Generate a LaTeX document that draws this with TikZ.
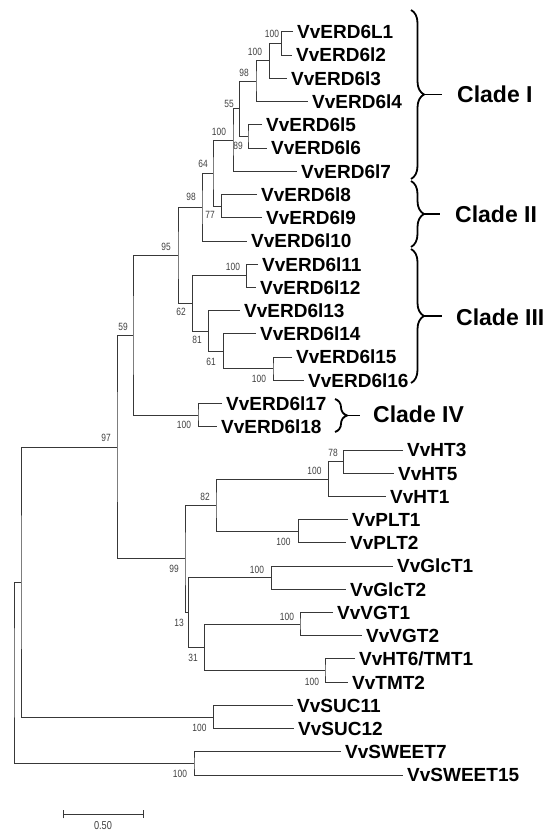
\documentclass[tikz,border=0pt]{standalone}
\usepackage{fontspec}
\setmainfont{Liberation Sans}
\newfontfamily\bsfont[FakeStretch=0.8]{Liberation Sans}
\usetikzlibrary{decorations.pathreplacing,arrows.meta}
\begin{document}
\begin{tikzpicture}[x={(1pt,0pt)}, y={(0pt,-1pt)},
  br/.style={draw=black!78, line width=1pt},
  leaf/.style={anchor=west, inner xsep=4pt, inner ysep=0pt, text height=13.6pt, text depth=0pt, font=\fontsize{19}{19}\selectfont\bfseries},
  bs/.style={inner sep=0pt, text=black!75, font=\bsfont\fontsize{10.5}{10.5}\selectfont, text height=7.5pt, text depth=0pt},
  clade/.style={anchor=west, inner sep=0pt, font=\fontsize{23}{23}\selectfont\bfseries, text height=16.5pt, text depth=0pt},
  cbrace/.style={draw=black, line width=1.8pt, decorate, decoration={brace, amplitude=13pt}},
  dash line/.style={draw=black, line width=1.8pt},
]
\useasboundingbox (0,0) rectangle (552,832);

% leaves
\node[leaf] (e0) at (293,32) {VvERD6L1};
\node[leaf] (e1) at (292,55.2) {VvERD6l2};
\node[leaf] (e2) at (287,78.4) {VvERD6l3};
\node[leaf] (e3) at (308,101.7) {VvERD6l4};
\node[leaf] (e4) at (262,124.9) {VvERD6l5};
\node[leaf] (e5) at (267,148.1) {VvERD6l6};
\node[leaf] (e6) at (297,171.3) {VvERD6l7};
\node[leaf] (e7) at (257,194.5) {VvERD6l8};
\node[leaf] (e8) at (262,217.8) {VvERD6l9};
\node[leaf] (e9) at (247,241) {VvERD6l10};
\node[leaf] (e10) at (258,264.2) {VvERD6l11};
\node[leaf] (e11) at (256,287.4) {VvERD6l12};
\node[leaf] (e12) at (240,310.6) {VvERD6l13};
\node[leaf] (e13) at (256,333.9) {VvERD6l14};
\node[leaf] (e14) at (292,357.1) {VvERD6l15};
\node[leaf] (e15) at (304,380.3) {VvERD6l16};
\node[leaf] (e16) at (222,403.5) {VvERD6l17};
\node[leaf] (e17) at (217,426.7) {VvERD6l18};
\node[leaf] (e18) at (403,450) {VvHT3};
\node[leaf] (e19) at (394,473.2) {VvHT5};
\node[leaf] (e20) at (386,496.4) {VvHT1};
\node[leaf] (e21) at (348,519.6) {VvPLT1};
\node[leaf] (e22) at (346,542.8) {VvPLT2};
\node[leaf] (e23) at (393,566.1) {VvGlcT1};
\node[leaf] (e24) at (346,589.3) {VvGlcT2};
\node[leaf] (e25) at (333,612.5) {VvVGT1};
\node[leaf] (e26) at (362,635.7) {VvVGT2};
\node[leaf] (e27) at (355,658.9) {VvHT6/TMT1};
\node[leaf] (e28) at (348,682.2) {VvTMT2};
\node[leaf] (e29) at (293,705.4) {VvSUC11};
\node[leaf] (e30) at (294,728.6) {VvSUC12};
\node[leaf] (e31) at (341,751.8) {VvSWEET7};
\node[leaf] (e32) at (403,775) {VvSWEET15};

% internal nodes
\coordinate (A) at (281.7,43.6);
\coordinate (B) at (269.3,61.0);
\coordinate (C) at (256,81.35);
\coordinate (E) at (248,136.5);
\coordinate (D) at (239.3,108.9);
\coordinate (F) at (233,140.1);
\coordinate (G) at (221.7,206.2);
\coordinate (H) at (213,173.2);
\coordinate (I) at (202,207.1);
\coordinate (J) at (246.7,275.8);
\coordinate (K) at (273,368.7);
\coordinate (L) at (223.3,351.3);
\coordinate (M) at (208.3,331);
\coordinate (N) at (192.3,303.4);
\coordinate (O) at (178,255.3);
\coordinate (P) at (198,415.1);
\coordinate (Q) at (133,335.2);
\coordinate (R) at (343.3,461.6);
\coordinate (S) at (328.3,479);
\coordinate (T) at (298.3,531.2);
\coordinate (U) at (216,505.1);
\coordinate (V) at (271.7,577.7);
\coordinate (W) at (300,624.1);
\coordinate (X) at (325,670.6);
\coordinate (Y) at (204.3,647.4);
\coordinate (Z) at (188.3,612.6);
\coordinate (AA) at (185,558.9);
\coordinate (N97) at (117,447.1);
\coordinate (BB) at (213.3,717);
\coordinate (CC) at (21,582);
\coordinate (DD) at (194,763.4);
\coordinate (root) at (14,672.7);

% branches
\draw[br] (e0.west) -| (A) |- (e1.west);
\draw[br] (A) -| (B) |- (e2.west);
\draw[br] (B) -| (C) |- (e3.west);
\draw[br] (e4.west) -| (E) |- (e5.west);
\draw[br] (C) -| (D) |- (E);
\draw[br] (D) -| (F) |- (e6.west);
\draw[br] (e7.west) -| (G) |- (e8.west);
\draw[br] (F) -| (H) |- (G);
\draw[br] (H) -| (I) |- (e9.west);
\draw[br] (e10.west) -| (J) |- (e11.west);
\draw[br] (e14.west) -| (K) |- (e15.west);
\draw[br] (e13.west) -| (L) |- (K);
\draw[br] (e12.west) -| (M) |- (L);
\draw[br] (J) -| (N) |- (M);
\draw[br] (I) -| (O) |- (N);
\draw[br] (e16.west) -| (P) |- (e17.west);
\draw[br] (O) -| (Q) |- (P);
\draw[br] (e18.west) -| (R) |- (e19.west);
\draw[br] (R) -| (S) |- (e20.west);
\draw[br] (e21.west) -| (T) |- (e22.west);
\draw[br] (S) -| (U) |- (T);
\draw[br] (e23.west) -| (V) |- (e24.west);
\draw[br] (e25.west) -| (W) |- (e26.west);
\draw[br] (e27.west) -| (X) |- (e28.west);
\draw[br] (W) -| (Y) |- (X);
\draw[br] (V) -| (Z) |- (Y);
\draw[br] (U) -| (AA) |- (Z);
\draw[br] (Q) -| (N97) |- (AA);
\draw[br] (e29.west) -| (BB) |- (e30.west);
\draw[br] (N97) -| (CC) |- (BB);
\draw[br] (e31.west) -| (DD) |- (e32.west);
\draw[br] (CC) -| (root) |- (DD);

% bootstrap values
\node[bs] (bA) at (272,34) {100};
\node[bs] (bB) at (255,52) {100};
\node[bs] (bC) at (244,73) {98};
\node[bs] (bD) at (229,104) {55};
\node[bs] (bF) at (219,132) {100};
\node[bs] (bE) at (238,146) {89};
\node[bs] (bH) at (203,164) {64};
\node[bs] (bI) at (191,197) {98};
\node[bs] (bG) at (210,215) {77};
\node[bs] (bO) at (166,247) {95};
\node[bs] (bJ) at (233,267) {100};
\node[bs] (bN) at (181,312) {62};
\node[bs] (bQ) at (123,327) {59};
\node[bs] (bM) at (197,340) {81};
\node[bs] (bL) at (211,362) {61};
\node[bs] (bK) at (259,379) {100};
\node[bs] (bP) at (184,425) {100};
\node[bs] (b97) at (106,438) {97};
\node[bs] (bR) at (333,453) {78};
\node[bs] (bS) at (314.5,470.5) {100};
\node[bs] (bU) at (205,497) {82};
\node[bs] (bT) at (283.5,541.5) {100};
\node[bs] (bAA) at (174,569) {99};
\node[bs] (bV) at (257,570) {100};
\node[bs] (bW) at (287,617) {100};
\node[bs] (bZ) at (179,623) {13};
\node[bs] (bY) at (193,658) {31};
\node[bs] (bX) at (312,682) {100};
\node[bs] (bBB) at (199.5,728) {100};
\node[bs] (bDD) at (180,774) {100};

% clade braces
\coordinate (cI1) at (411,10);   \coordinate (cI2) at (411,179);
\coordinate (cII1) at (411,181); \coordinate (cII2) at (411,247);
\coordinate (cIII1) at (411,249);\coordinate (cIII2) at (411,383);
\coordinate (cIV1) at (335,399); \coordinate (cIV2) at (335,432);
\draw[cbrace] (cI1) -- (cI2);
\draw[cbrace] (cII1) -- (cII2);
\draw[cbrace] (cIII1) -- (cIII2);
\draw[cbrace, decoration={brace, amplitude=12pt}] (cIV1) -- (cIV2);
\coordinate (tI) at (423,94.5);    \coordinate (dI) at (442,94.5);
\coordinate (tII) at (423,214);    \coordinate (dII) at (440,214);
\coordinate (tIII) at (423,316);   \coordinate (dIII) at (442,316);
\coordinate (tIV) at (346,415.5);  \coordinate (dIV) at (360,415.5);
\draw[dash line] (tI) -- (dI);
\draw[dash line] (tII) -- (dII);
\draw[dash line] (tIII) -- (dIII);
\draw[dash line] (tIV) -- (dIV);
\node[clade] (kI) at (457,94) {Clade I};
\node[clade] (kII) at (455,214) {Clade II};
\node[clade] (kIII) at (456,317) {Clade III};
\node[clade] (kIV) at (373,414) {Clade IV};

% scale bar
\coordinate (s1) at (62.7,814.3);
\coordinate (s2) at (144.3,814.3);
\draw[br, {Bar[width=8pt]}-{Bar[width=8pt]}] (s1) -- (s2);
\node[inner sep=0pt, text=black!75, font=\bsfont\fontsize{11.5}{11.5}\selectfont, text height=8pt, text depth=0pt] (sl) at (103,825.5) {0.50};
\end{tikzpicture}
\end{document}
